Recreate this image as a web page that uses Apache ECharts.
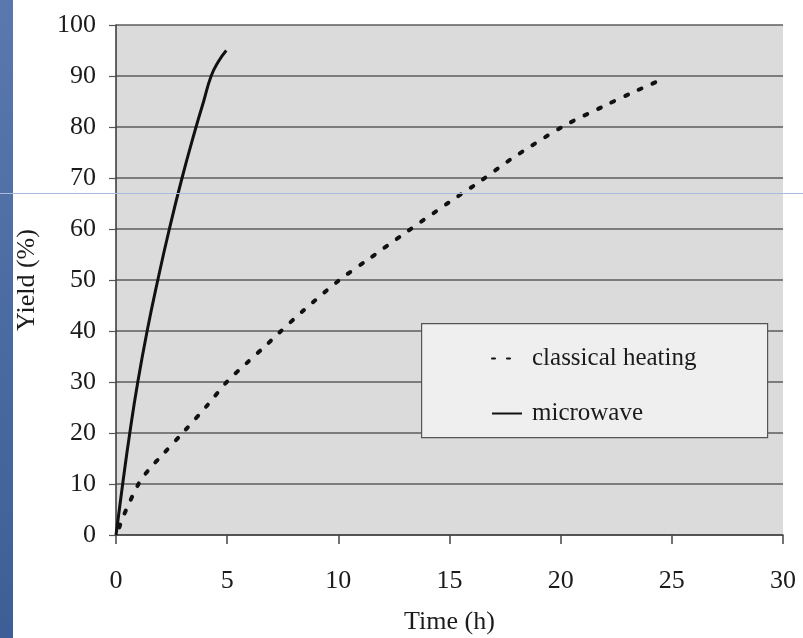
<!DOCTYPE html>
<html>
<head>
<meta charset="utf-8">
<script src="https://cdn.jsdelivr.net/npm/echarts@6/dist/echarts.min.js"></script>
<style>
  html, body { margin: 0; padding: 0; background: #fff; }
  #main { width: 803px; height: 638px; }
</style>
</head>
<body>
<div id="main"></div>
<script>
// values (time in h, yield in %)
var microwaveTime  = [0, 0.3, 0.62, 0.98, 1.4, 1.88, 2.4, 2.97, 3.6, 3.94, 4.28, 4.6, 4.96];
var microwaveYield = [0, 10, 20, 30, 40, 50, 60, 70, 80, 85, 90, 92.8, 95];

var classicalTime  = [0.15, 0.3, 1.05, 1.57, 2.0, 3.1, 4.1, 5.0, 5.85, 6.75, 7.3, 8.4, 10.05, 11.3, 13.1, 15.0, 16.4, 17.7, 20.1, 21.9, 23.2, 24.7];
var classicalYield = [1.5, 3.4, 10.3, 13.3, 15.3, 20.5, 25.4, 30.1, 33.6, 37.2, 39.5, 43.9, 50, 53.9, 59.5, 65.3, 69.4, 73.5, 80.1, 84, 86.7, 89.6];

var seriesNames = ['classical heating', 'microwave'];

var FONT = '"Liberation Serif", "DejaVu Serif", serif';
var INK = '#1b1b1b';

function pairs(xs, ys) {
  return xs.map(function (x, i) { return [x, ys[i]]; });
}

var myChart = echarts.init(document.getElementById('main'));
var option = {
  animation: false,
  backgroundColor: '#ffffff',
  grid: {
    left: 116,
    right: 20,
    top: 25,
    bottom: 103,
    outerBoundsMode: 'none',
    containLabel: false,
    show: true,
    backgroundColor: '#dbdbdb',
    borderWidth: 0
  },
  xAxis: {
    type: 'value',
    min: 0,
    max: 30,
    interval: 5,
    name: 'Time (h)',
    nameLocation: 'middle',
    nameGap: 74,
    nameTextStyle: { fontFamily: FONT, fontSize: 26, color: INK },
    axisLine: { show: true, onZero: false, lineStyle: { color: '#444', width: 1.5 } },
    axisTick: { show: true, inside: false, length: 9, lineStyle: { color: '#444', width: 1.5 } },
    axisLabel: { fontFamily: FONT, fontSize: 26, color: INK, margin: 33 },
    splitLine: { show: false }
  },
  yAxis: {
    type: 'value',
    min: 0,
    max: 100,
    interval: 10,
    name: 'Yield (%)',
    nameLocation: 'middle',
    nameGap: 76,
    nameTextStyle: { fontFamily: FONT, fontSize: 26, color: INK },
    axisLine: { show: true, lineStyle: { color: '#333', width: 1.5 } },
    axisTick: { show: true, length: 7, lineStyle: { color: '#555', width: 1.2 } },
    axisLabel: { fontFamily: FONT, fontSize: 26, color: INK, margin: 20 },
    splitLine: { show: true, lineStyle: { color: '#5c5c5c', width: 1.5 } }
  },
  legend: {
    orient: 'vertical',
    left: 486,
    top: 341,
    itemWidth: 30,
    itemHeight: 14,
    itemGap: 30,
    itemStyle: { opacity: 0 },
    textStyle: { fontFamily: FONT, fontSize: 25, color: INK, padding: [0, 0, 0, 5] },
    data: seriesNames
  },
  graphic: [
    // blue slide strip on the left edge and the faint guide line
    {
      type: 'rect', left: 0, top: 0, z: -1,
      shape: { width: 13, height: 638 },
      style: {
        fill: new echarts.graphic.LinearGradient(0, 0, 0, 1, [
          { offset: 0, color: '#5a78ae' },
          { offset: 1, color: '#3b5f96' }
        ])
      }
    },
    {
      type: 'rect', left: 0, top: 193, z: 100,
      shape: { width: 803, height: 1 },
      style: { fill: '#a9bbdb' }
    },
    // legend frame
    {
      type: 'rect', left: 421, top: 323, z: 2,
      shape: { width: 346, height: 114 },
      style: { fill: '#efefef', stroke: '#555', lineWidth: 1.2 }
    }
  ],
  series: [
    {
      name: seriesNames[0],
      type: 'line',
      data: pairs(classicalTime, classicalYield),
      symbol: 'none',
      smooth: 0.3,
      color: '#111',
      lineStyle: { color: '#111', width: 4, type: [3, 12], cap: 'round' },
      z: 3
    },
    {
      name: seriesNames[1],
      type: 'line',
      data: pairs(microwaveTime, microwaveYield),
      symbol: 'none',
      smooth: 0.5,
      color: '#111',
      lineStyle: { color: '#111', width: 3, type: 'solid' },
      z: 4
    }
  ]
};
myChart.setOption(option);
</script>
</body>
</html>
